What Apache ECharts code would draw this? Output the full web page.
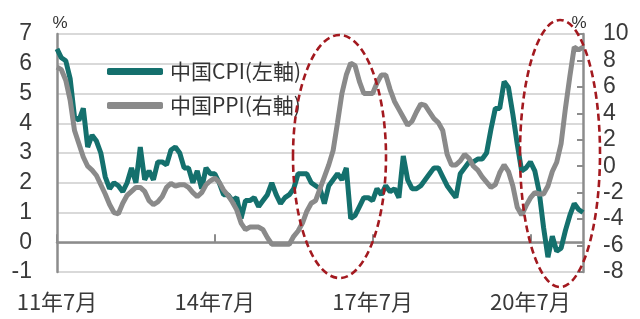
<!DOCTYPE html>
<html><head><meta charset="utf-8">
<script src="https://cdn.jsdelivr.net/npm/echarts@6/dist/echarts.min.js"></script>
<style>html,body{margin:0;padding:0;background:#fff}#c{width:640px;height:319px}</style>
</head><body><div id="c"></div>
<script>
// China CPI YoY (%), monthly 2011-07 .. 2021-07
var cpi = [
  6.5,6.2,6.1,5.5,4.2,4.1,
  4.5,3.2,3.6,3.4,3.0,2.2,1.8,2.0,1.9,1.7,2.0,2.5,
  2.0,3.2,2.1,2.4,2.1,2.7,2.7,2.6,3.1,3.2,3.0,2.5,
  2.5,2.0,2.4,1.8,2.5,2.3,2.3,2.0,1.6,1.6,1.4,1.5,
  0.8,1.4,1.4,1.5,1.2,1.4,1.6,2.0,1.6,1.3,1.5,1.6,
  1.8,2.3,2.3,2.3,2.0,1.9,1.8,1.3,1.9,2.1,2.3,2.1,
  2.5,0.8,0.9,1.2,1.5,1.5,1.4,1.8,1.6,1.9,1.7,1.8,
  1.5,2.9,2.1,1.8,1.8,1.9,2.1,2.3,2.5,2.5,2.2,1.9,
  1.7,1.5,2.3,2.5,2.7,2.7,2.8,2.8,3.0,3.8,4.5,4.5,
  5.4,5.2,4.3,3.3,2.4,2.5,2.7,2.4,1.7,0.5,-0.5,0.2,
  -0.3,-0.2,0.4,0.9,1.3,1.1,1.0
];
// China PPI YoY (%), monthly 2011-07 .. 2021-07
var ppi = [
  7.5,7.3,6.5,5.0,2.7,1.7,
  0.7,0.0,-0.3,-0.7,-1.4,-2.1,-2.9,-3.5,-3.6,-2.8,-2.2,-1.9,
  -1.6,-1.6,-1.9,-2.6,-2.9,-2.7,-2.3,-1.6,-1.3,-1.5,-1.4,-1.4,
  -1.6,-2.0,-2.3,-2.0,-1.4,-1.1,-0.9,-1.2,-1.8,-2.2,-2.7,-3.3,
  -4.3,-4.8,-4.6,-4.6,-4.6,-4.8,-5.4,-5.9,-5.9,-5.9,-5.9,-5.9,
  -5.3,-4.9,-4.3,-3.4,-2.8,-2.6,-1.7,-0.8,0.1,1.2,3.3,5.5,
  6.9,7.8,7.6,6.4,5.5,5.5,5.5,6.3,6.9,6.9,5.8,4.9,
  4.3,3.7,3.1,3.4,4.1,4.7,4.6,4.1,3.6,3.3,2.7,0.9,
  0.1,0.1,0.4,0.9,0.6,0.0,-0.3,-0.8,-1.2,-1.6,-1.4,-0.5,
  0.1,-0.4,-1.5,-3.1,-3.7,-3.0,-2.4,-2.0,-2.1,-2.1,-1.5,-0.4,
  0.3,1.7,4.4,6.8,9.0,8.8,9.0
];
var seriesNames = ['中国CPI(左軸)', '中国PPI(右軸)'];
var tickLabels = ['11年7月', '14年7月', '17年7月', '20年7月'];
var categories = [];
(function(){
  var y = 2011, m = 7;
  for (var i = 0; i < cpi.length; i++) {
    categories.push(String(y % 100).padStart(2,'0') + '年' + m + '月');
    m++; if (m > 12) { m = 1; y++; }
  }
})();

var chart = echarts.init(document.getElementById('c'), null, {renderer:'canvas'});
var numFont = 'Liberation Sans, Arial, sans-serif';
var cjkFont = '"Noto Sans CJK JP", sans-serif';
chart.setOption({
  animation: false,
  backgroundColor: '#ffffff',
  grid: {left: 57, right: 57, top: 34, bottom: 47, containLabel: false, outerBoundsMode: 'none'},
  legend: {
    orient: 'vertical', left: 107, top: 61, padding: 0,
    itemWidth: 56, itemHeight: 7, itemGap: 13,
    icon: 'roundRect',
    textStyle: {fontSize: 21, color: '#333', fontFamily: cjkFont, padding: [0,0,0,2]},
    data: seriesNames
  },
  xAxis: [{
    type: 'category', data: categories, boundaryGap: false, position: 'bottom',
    axisLine: {show: false, onZero: false},
    axisTick: {show: false},
    axisLabel: {
      interval: 35, margin: 19, fontSize: 22, color: '#3a3a3a', fontFamily: cjkFont,
      formatter: function (v) { return tickLabels.indexOf(v) >= 0 ? v : ''; }
    },
    splitLine: {show: false}
  }, {
    type: 'category', data: categories, boundaryGap: false, position: 'bottom',
    axisLine: {show: true, onZero: true, onZeroAxisIndex: 0, lineStyle: {color: '#8c8c8c', width: 2.5}},
    axisTick: {show: true, inside: true, length: 8, interval: 35, lineStyle: {color: '#8c8c8c', width: 2}},
    axisLabel: {show: false},
    splitLine: {show: false}
  }],
  yAxis: [{
    type: 'value', min: -1, max: 7, interval: 1, position: 'left',
    name: '%', nameGap: 2,
    nameTextStyle: {fontSize: 17, color: '#333', fontFamily: numFont, align: 'center', padding: [0,0,0,6]},
    axisLine: {show: true, onZero: false, lineStyle: {color: '#8c8c8c', width: 2.5}},
    axisTick: {show: false},
    axisLabel: {fontSize: 23, color: '#3a3a3a', fontFamily: numFont, margin: 25},
    splitLine: {show: true, lineStyle: {color: '#d9d9d9', width: 2}}
  }, {
    type: 'value', min: -8, max: 10, interval: 2, position: 'right',
    name: '%', nameGap: 2,
    nameTextStyle: {fontSize: 17, color: '#333', fontFamily: numFont, align: 'center', padding: [0,8,0,0]},
    axisLine: {show: true, onZero: false, lineStyle: {color: '#8c8c8c', width: 2.5}},
    axisTick: {show: true, inside: true, length: 6, lineStyle: {color: '#8c8c8c', width: 2}},
    axisLabel: {fontSize: 23, color: '#3a3a3a', fontFamily: numFont, margin: 20},
    splitLine: {show: false}
  }],
  series: [{
    name: seriesNames[0], type: 'line', xAxisIndex: 0, yAxisIndex: 0, data: cpi,
    symbol: 'none', lineStyle: {color: '#14706d', width: 5}, itemStyle: {color: '#14706d'}, z: 3
  }, {
    name: seriesNames[1], type: 'line', xAxisIndex: 0, yAxisIndex: 1, data: ppi,
    symbol: 'none', lineStyle: {color: '#8a8a8a', width: 5}, itemStyle: {color: '#8a8a8a'}, z: 4
  }],
  graphic: [{
    type: 'ellipse', shape: {cx: 339.5, cy: 156.5, rx: 46.5, ry: 121.5}, z: 100,
    style: {fill: null, stroke: '#a3191f', lineWidth: 2.6, lineDash: [7, 4]}
  }, {
    type: 'ellipse', shape: {cx: 560, cy: 153.5, rx: 40, ry: 133.5}, z: 100,
    style: {fill: null, stroke: '#a3191f', lineWidth: 2.6, lineDash: [7, 4]}
  }]
});
</script></body></html>
